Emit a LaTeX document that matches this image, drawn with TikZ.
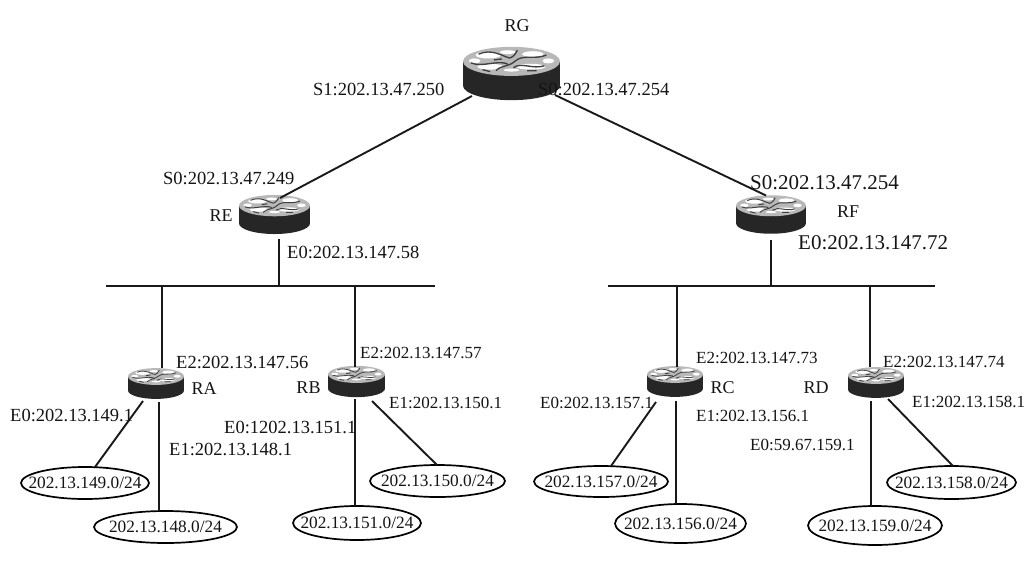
\documentclass[tikz,border=0pt]{standalone}
\usepackage{fontspec}
\setmainfont{Liberation Serif}
\usetikzlibrary{positioning,calc,shapes.geometric}

\begin{document}
\begin{tikzpicture}[
    x=1pt, y=-1pt,
    lbl/.style={anchor=west, inner sep=0pt, text=black!92, font=\fontsize{18.5}{20}\selectfont},
    lblsmall/.style={lbl, font=\fontsize{17}{19}\selectfont},
    lblbig/.style={lbl, font=\fontsize{21}{23}\selectfont},
    rname/.style={lbl, anchor=center, font=\fontsize{18}{20}\selectfont},
    netlbl/.style={inner sep=0pt, text=black!92, font=\fontsize{17.3}{19}\selectfont},
    net/.style={draw, ellipse, line width=1.7pt, inner sep=0pt, label={[netlbl]center:#1}},
    link/.style={line width=1.9pt, black!90},
    router/.style={inner sep=0pt, minimum width=#1*1pt, minimum height=#1*0.55pt,
        path picture={
            \begin{scope}[shift={(path picture bounding box.center)}, x=#1*0.01pt, y=#1*-0.01pt]
                \fill[black!85] (-50,-12.5) rectangle (50,12.5);
                \fill[black!85] (0,12.5) ellipse (50 and 15);
                \fill[black!28] (0,-12.5) ellipse (50 and 15);
                \fill[white] (-24,-19) ellipse (13 and 3.5);
                \fill[white] (20,-7) ellipse (15 and 3);
                \fill[white] (22,-20) ellipse (11 and 3);
                \fill[white] (-22,-7) ellipse (13 and 3);
                \fill[white] (-4,-22) ellipse (8 and 2);
                \fill[white] (0,-3.5) ellipse (8 and 1.5);
                \fill[white] (-38,-13) ellipse (6 and 2.5);
                \fill[white] (38,-13) ellipse (6 and 2.5);
                \draw[black!75, line width=#1*0.014pt]
                    (-34,-20) .. controls (-20,-26) and (-10,-18) .. (-2,-16)
                    (-42,-11) .. controls (-30,-6) and (-16,-14) .. (-4,-10)
                    (4,-13) .. controls (12,-20) and (24,-14) .. (36,-19)
                    (2,-6) .. controls (10,-12) and (22,-4) .. (34,-8)
                    (-16,-3) .. controls (-10,-9) and (-4,-6) .. (4,-13)
                    (6,-24) .. controls (4,-19) and (0,-16) .. (-2,-16)
                    (-30,-4) -- (-22,-2)
                    (16,-3) -- (26,-3)
                    (-18,-14) -- (-10,-15);
            \end{scope}
        }}
]
\useasboundingbox (0,0) rectangle (1030,581);

% routers
\node[router=97] (rg) at (511.5,73.5) {};
\node[router=71] (re) at (274.5,214.5) {};
\node[router=70] (rf) at (771,214.5) {};
\node[router=56] (ra) at (156,383.5) {};
\node[router=57] (rb) at (356.5,381.5) {};
\node[router=56] (rc) at (675,381.5) {};
\node[router=56] (rd) at (876,382.5) {};

% networks
\node[net=202.13.149.0/24, minimum width=128pt, minimum height=32pt] (net149) at (85,483) {};
\node[net=202.13.148.0/24, minimum width=143pt, minimum height=32pt] (net148) at (165.5,527) {};
\node[net=202.13.150.0/24, minimum width=135pt, minimum height=32pt] (net150) at (437.5,481) {};
\node[net=202.13.151.0/24, minimum width=128pt, minimum height=34pt] (net151) at (357,523) {};
\node[net=202.13.157.0/24, minimum width=134pt, minimum height=31pt] (net157) at (601,481.5) {};
\node[net=202.13.156.0/24, minimum width=131pt, minimum height=39pt] (net156) at (680.5,523.5) {};
\node[net=202.13.158.0/24, minimum width=129pt, minimum height=33pt] (net158) at (951.5,482.5) {};
\node[net=202.13.159.0/24, minimum width=134pt, minimum height=39pt] (net159) at (875,525.5) {};

% bus ends and junctions
\coordinate (busla) at (106,286);
\coordinate (buslb) at (435,286);
\coordinate (busra) at (608,286);
\coordinate (busrb) at (935,286);
\coordinate (jre) at (279,286);
\coordinate (jra) at (162,286);
\coordinate (jrb) at (355,286);
\coordinate (jrf) at (771,286);
\coordinate (jrc) at (677,286);
\coordinate (jrd) at (870,286);

\draw[link] (busla) -- (buslb);
\draw[link] (busra) -- (busrb);

\draw[link] ($(rg)+(-39.5,22.5)$) -- ($(re)+(5.5,-16.5)$);
\draw[link] ($(rg)+(43.5,21.5)$) -- ($(rf)+(-5,-19)$);
\draw[link] ($(re)+(4.5,24.5)$) -- (jre);
\draw[link] ($(rf)+(0,25.5)$) -- (jrf);
\draw[link] (jra) -- ($(ra)+(6,-15.5)$);
\draw[link] (jrb) -- ($(rb)+(-1.5,-14.5)$);
\draw[link] (jrc) -- ($(rc)+(2,-14.5)$);
\draw[link] (jrd) -- ($(rd)+(-6,-15.5)$);

\draw[link] ($(ra)+(-13,17.5)$) -- ($(net149)+(10,-16)$);
\draw[link] ($(ra)+(3,18.5)$) -- ($(net148)+(-6.5,-16)$);
\draw[link] ($(rb)+(-1.5,17.5)$) -- ($(net151)+(-2,-17)$);
\draw[link] ($(rb)+(15.5,19.5)$) -- ($(net150)+(-0.5,-16)$);
\draw[link] ($(rc)+(-19,20.5)$) -- ($(net157)+(10,-15.5)$);
\draw[link] ($(rc)+(1,19.5)$) -- ($(net156)+(-4.5,-19.5)$);
\draw[link] ($(rd)+(-5,18.5)$) -- ($(net159)+(-4,-19.5)$);
\draw[link] ($(rd)+(12,16.5)$) -- ($(net158)+(1.5,-16.5)$);

% router names
\node[rname] (namerg) at (517,26) {RG};
\node[rname] (namere) at (221,216) {RE};
\node[rname] (namerf) at (848,212) {RF};
\node[rname] (namera) at (204,389) {RA};
\node[rname] (namerb) at (308.5,388) {RB};
\node[rname] (namerc) at (722.5,388) {RC};
\node[rname] (namerd) at (816,388) {RD};

% interface labels
\node[lbl] (rgsa) at (313,89) {S1:202.13.47.250};
\node[lbl] (rgsb) at (538,89) {S0:202.13.47.254};
\node[lbl] (resa) at (163,178) {S0:202.13.47.249};
\node[lbl] (reea) at (287,252) {E0:202.13.147.58};
\node[lblbig] (rfsa) at (750,183) {S0:202.13.47.254};
\node[lblbig] (rfea) at (798,243) {E0:202.13.147.72};
\node[lbl] (raec) at (176,362) {E2:202.13.147.56};
\node[lbl] (raea) at (10,415) {E0:202.13.149.1};
\node[lbl] (raeb) at (169,449) {E1:202.13.148.1};
\node[lblsmall] (rbec) at (360,353) {E2:202.13.147.57};
\node[lblsmall] (rbeb) at (389,403) {E1:202.13.150.1};
\node[lbl] (rbea) at (224,427) {E0:1202.13.151.1};
\node[lblsmall] (rcec) at (696,358) {E2:202.13.147.73};
\node[lblsmall] (rcea) at (540,403) {E0:202.13.157.1};
\node[lblsmall] (rceb) at (696,416) {E1:202.13.156.1};
\node[lblsmall] (rdec) at (883,362) {E2:202.13.147.74};
\node[lblsmall] (rdeb) at (912,402) {E1:202.13.158.1};
\node[lblsmall] (rdea) at (750,445) {E0:59.67.159.1};
\end{tikzpicture}
\end{document}
